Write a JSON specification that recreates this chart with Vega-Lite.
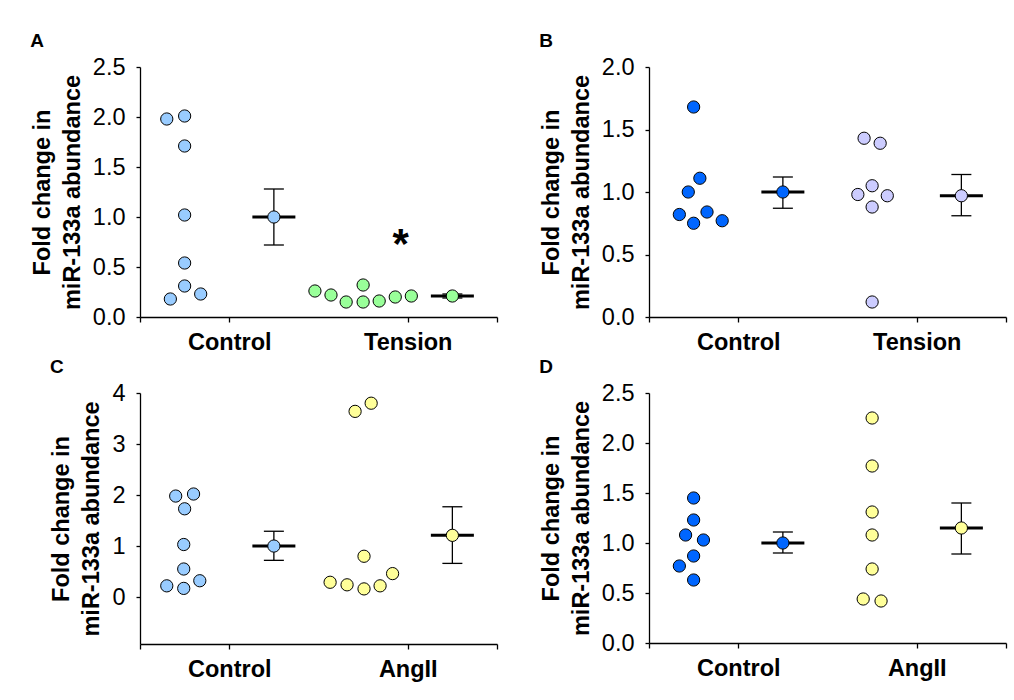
{
  "$schema": "https://vega.github.io/schema/vega-lite/v6.json",
  "padding": {"left": 30, "top": 32, "right": 5, "bottom": 5},
  "background": "white",
  "config": {
    "font": "Liberation Sans",
    "view": {"stroke": null},
    "axis": {"grid": false, "domainColor": "#000", "domainWidth": 1.3, "tickColor": "#000", "tickWidth": 1.3, "labelColor": "#000", "labelFont": "Liberation Sans", "labelFontSize": 23.5, "titleFont": "Liberation Sans", "titleFontSize": 23.5, "titleFontWeight": "bold", "titleColor": "#000"},
    "axisX": {"labelFontWeight": "bold", "tickSize": 5, "labelPadding": 8},
    "axisY": {"tickSize": 4, "labelPadding": 11, "titleLineHeight": 30, "titlePadding": 8},
    "title": {"font": "Liberation Sans", "fontSize": 19, "fontWeight": "bold", "color": "#000", "anchor": "start", "frame": "bounds", "offset": 4},
    "circle": {"size": 150, "stroke": "#000", "strokeWidth": 1, "opacity": 1}
  },
  "datasets": {
    "points": [
      {"panel": "A", "group": "Control", "pos": 0.30, "value": 1.98},
      {"panel": "A", "group": "Control", "pos": 0.50, "value": 2.01},
      {"panel": "A", "group": "Control", "pos": 0.50, "value": 1.71},
      {"panel": "A", "group": "Control", "pos": 0.50, "value": 1.02},
      {"panel": "A", "group": "Control", "pos": 0.50, "value": 0.54},
      {"panel": "A", "group": "Control", "pos": 0.50, "value": 0.31},
      {"panel": "A", "group": "Control", "pos": 0.34, "value": 0.18},
      {"panel": "A", "group": "Control", "pos": 0.68, "value": 0.23},
      {"panel": "A", "group": "Tension", "pos": 1.96, "value": 0.26},
      {"panel": "A", "group": "Tension", "pos": 2.14, "value": 0.22},
      {"panel": "A", "group": "Tension", "pos": 2.31, "value": 0.15},
      {"panel": "A", "group": "Tension", "pos": 2.50, "value": 0.32},
      {"panel": "A", "group": "Tension", "pos": 2.50, "value": 0.15},
      {"panel": "A", "group": "Tension", "pos": 2.68, "value": 0.16},
      {"panel": "A", "group": "Tension", "pos": 2.86, "value": 0.20},
      {"panel": "A", "group": "Tension", "pos": 3.04, "value": 0.21},
      {"panel": "B", "group": "Control", "pos": 0.50, "value": 1.68},
      {"panel": "B", "group": "Control", "pos": 0.57, "value": 1.11},
      {"panel": "B", "group": "Control", "pos": 0.44, "value": 1.00},
      {"panel": "B", "group": "Control", "pos": 0.34, "value": 0.82},
      {"panel": "B", "group": "Control", "pos": 0.50, "value": 0.75},
      {"panel": "B", "group": "Control", "pos": 0.65, "value": 0.84},
      {"panel": "B", "group": "Control", "pos": 0.82, "value": 0.77},
      {"panel": "B", "group": "Tension", "pos": 2.41, "value": 1.43},
      {"panel": "B", "group": "Tension", "pos": 2.59, "value": 1.39},
      {"panel": "B", "group": "Tension", "pos": 2.50, "value": 1.05},
      {"panel": "B", "group": "Tension", "pos": 2.34, "value": 0.98},
      {"panel": "B", "group": "Tension", "pos": 2.67, "value": 0.97},
      {"panel": "B", "group": "Tension", "pos": 2.50, "value": 0.88},
      {"panel": "B", "group": "Tension", "pos": 2.50, "value": 0.12},
      {"panel": "C", "group": "Control", "pos": 0.40, "value": 1.98},
      {"panel": "C", "group": "Control", "pos": 0.60, "value": 2.02},
      {"panel": "C", "group": "Control", "pos": 0.50, "value": 1.73},
      {"panel": "C", "group": "Control", "pos": 0.49, "value": 1.03},
      {"panel": "C", "group": "Control", "pos": 0.49, "value": 0.55},
      {"panel": "C", "group": "Control", "pos": 0.30, "value": 0.22},
      {"panel": "C", "group": "Control", "pos": 0.49, "value": 0.17},
      {"panel": "C", "group": "Control", "pos": 0.67, "value": 0.32},
      {"panel": "C", "group": "AngII", "pos": 2.41, "value": 3.64},
      {"panel": "C", "group": "AngII", "pos": 2.59, "value": 3.80},
      {"panel": "C", "group": "AngII", "pos": 2.51, "value": 0.80},
      {"panel": "C", "group": "AngII", "pos": 2.13, "value": 0.29},
      {"panel": "C", "group": "AngII", "pos": 2.32, "value": 0.24},
      {"panel": "C", "group": "AngII", "pos": 2.51, "value": 0.16},
      {"panel": "C", "group": "AngII", "pos": 2.69, "value": 0.22},
      {"panel": "C", "group": "AngII", "pos": 2.83, "value": 0.46},
      {"panel": "D", "group": "Control", "pos": 0.50, "value": 1.45},
      {"panel": "D", "group": "Control", "pos": 0.50, "value": 1.23},
      {"panel": "D", "group": "Control", "pos": 0.41, "value": 1.08},
      {"panel": "D", "group": "Control", "pos": 0.61, "value": 1.03},
      {"panel": "D", "group": "Control", "pos": 0.50, "value": 0.87},
      {"panel": "D", "group": "Control", "pos": 0.34, "value": 0.77},
      {"panel": "D", "group": "Control", "pos": 0.50, "value": 0.63},
      {"panel": "D", "group": "AngII", "pos": 2.50, "value": 2.25},
      {"panel": "D", "group": "AngII", "pos": 2.50, "value": 1.77},
      {"panel": "D", "group": "AngII", "pos": 2.50, "value": 1.31},
      {"panel": "D", "group": "AngII", "pos": 2.50, "value": 1.08},
      {"panel": "D", "group": "AngII", "pos": 2.50, "value": 0.74},
      {"panel": "D", "group": "AngII", "pos": 2.40, "value": 0.44},
      {"panel": "D", "group": "AngII", "pos": 2.60, "value": 0.42}
    ],
    "summary": [
      {"panel": "A", "group": "Control", "pos": 1.5, "mean": 1.00, "lo": 0.72, "hi": 1.28},
      {"panel": "A", "group": "Tension", "pos": 3.5, "mean": 0.21, "lo": 0.19, "hi": 0.23},
      {"panel": "B", "group": "Control", "pos": 1.5, "mean": 1.00, "lo": 0.87, "hi": 1.12},
      {"panel": "B", "group": "Tension", "pos": 3.5, "mean": 0.97, "lo": 0.81, "hi": 1.14},
      {"panel": "C", "group": "Control", "pos": 1.5, "mean": 1.00, "lo": 0.72, "hi": 1.29},
      {"panel": "C", "group": "AngII", "pos": 3.5, "mean": 1.21, "lo": 0.66, "hi": 1.77},
      {"panel": "D", "group": "Control", "pos": 1.5, "mean": 1.00, "lo": 0.90, "hi": 1.11},
      {"panel": "D", "group": "AngII", "pos": 3.5, "mean": 1.15, "lo": 0.89, "hi": 1.40}
    ],
    "notes": [
      {"panel": "A", "pos": 2.92, "value": 0.82, "label": "*"}
    ]
  },
  "columns": 2,
  "spacing": {"row": 76, "column": 152},
  "bounds": "flush",
  "resolve": {"scale": {"x": "independent", "y": "independent", "color": "independent"}},
  "concat": [
    {
      "width": 357, "height": 250,
      "title": {"text": "A"},
      "encoding": {"x": {"field": "pos", "type": "quantitative", "scale": {"domain": [0, 4], "nice": false, "zero": false}, "axis": {"values": [0, 1, 3, 4], "title": null, "labelExpr": "datum.value == 1 ? 'Control' : datum.value == 3 ? 'Tension' : ''"}}},
      "layer": [
        {"data": {"name": "summary"}, "transform": [{"filter": "datum.panel == 'A'"}], "mark": {"type": "rule", "color": "#000", "strokeWidth": 1.3}, "encoding": {"y": {"field": "lo", "type": "quantitative", "scale": {"domain": [0, 2.5], "nice": false, "zero": false}, "axis": {"values": [0, 0.5, 1, 1.5, 2, 2.5], "format": ".1f", "title": ["Fold change in", "miR-133a abundance"]}}, "y2": {"field": "hi"}}},
        {"data": {"name": "summary"}, "transform": [{"filter": "datum.panel == 'A'"}], "mark": {"type": "tick", "orient": "horizontal", "size": 20, "thickness": 1.3, "color": "#000", "opacity": 1}, "encoding": {"y": {"field": "lo", "type": "quantitative", "scale": {"domain": [0, 2.5], "nice": false, "zero": false}, "axis": {"values": [0, 0.5, 1, 1.5, 2, 2.5], "format": ".1f", "title": ["Fold change in", "miR-133a abundance"]}}}},
        {"data": {"name": "summary"}, "transform": [{"filter": "datum.panel == 'A'"}], "mark": {"type": "tick", "orient": "horizontal", "size": 20, "thickness": 1.3, "color": "#000", "opacity": 1}, "encoding": {"y": {"field": "hi", "type": "quantitative", "scale": {"domain": [0, 2.5], "nice": false, "zero": false}, "axis": {"values": [0, 0.5, 1, 1.5, 2, 2.5], "format": ".1f", "title": ["Fold change in", "miR-133a abundance"]}}}},
        {"data": {"name": "summary"}, "transform": [{"filter": "datum.panel == 'A'"}], "mark": {"type": "tick", "orient": "horizontal", "size": 43, "thickness": 3, "color": "#000", "opacity": 1}, "encoding": {"y": {"field": "mean", "type": "quantitative", "scale": {"domain": [0, 2.5], "nice": false, "zero": false}, "axis": {"values": [0, 0.5, 1, 1.5, 2, 2.5], "format": ".1f", "title": ["Fold change in", "miR-133a abundance"]}}}},
        {"data": {"name": "points"}, "transform": [{"filter": "datum.panel == 'A'"}], "mark": {"type": "circle"}, "encoding": {
          "y": {"field": "value", "type": "quantitative", "scale": {"domain": [0, 2.5], "nice": false, "zero": false}, "axis": {"values": [0, 0.5, 1, 1.5, 2, 2.5], "format": ".1f", "title": ["Fold change in", "miR-133a abundance"]}},
          "color": {"field": "group", "type": "nominal", "scale": {"domain": ["Control", "Tension"], "range": ["#99CCFF", "#99FF99"]}, "legend": null}}},
        {"data": {"name": "summary"}, "transform": [{"filter": "datum.panel == 'A'"}], "mark": {"type": "circle"}, "encoding": {"y": {"field": "mean", "type": "quantitative", "scale": {"domain": [0, 2.5], "nice": false, "zero": false}, "axis": {"values": [0, 0.5, 1, 1.5, 2, 2.5], "format": ".1f", "title": ["Fold change in", "miR-133a abundance"]}}, "color": {"field": "group", "type": "nominal", "legend": null}}},
        {"data": {"name": "notes"}, "transform": [{"filter": "datum.panel == 'A'"}], "mark": {"type": "text", "fontSize": 42, "fontWeight": "bold", "baseline": "middle", "dy": 10, "color": "#000"}, "encoding": {"y": {"field": "value", "type": "quantitative", "scale": {"domain": [0, 2.5], "nice": false, "zero": false}, "axis": {"values": [0, 0.5, 1, 1.5, 2, 2.5], "format": ".1f", "title": ["Fold change in", "miR-133a abundance"]}}, "text": {"field": "label"}}}
      ]
    },
    {
      "width": 357, "height": 250,
      "title": {"text": "B"},
      "encoding": {"x": {"field": "pos", "type": "quantitative", "scale": {"domain": [0, 4], "nice": false, "zero": false}, "axis": {"values": [0, 1, 3, 4], "title": null, "labelExpr": "datum.value == 1 ? 'Control' : datum.value == 3 ? 'Tension' : ''"}}},
      "layer": [
        {"data": {"name": "summary"}, "transform": [{"filter": "datum.panel == 'B'"}], "mark": {"type": "rule", "color": "#000", "strokeWidth": 1.3}, "encoding": {"y": {"field": "lo", "type": "quantitative", "scale": {"domain": [0, 2], "nice": false, "zero": false}, "axis": {"values": [0, 0.5, 1, 1.5, 2], "format": ".1f", "title": ["Fold change in", "miR-133a abundance"]}}, "y2": {"field": "hi"}}},
        {"data": {"name": "summary"}, "transform": [{"filter": "datum.panel == 'B'"}], "mark": {"type": "tick", "orient": "horizontal", "size": 20, "thickness": 1.3, "color": "#000", "opacity": 1}, "encoding": {"y": {"field": "lo", "type": "quantitative", "scale": {"domain": [0, 2], "nice": false, "zero": false}, "axis": {"values": [0, 0.5, 1, 1.5, 2], "format": ".1f", "title": ["Fold change in", "miR-133a abundance"]}}}},
        {"data": {"name": "summary"}, "transform": [{"filter": "datum.panel == 'B'"}], "mark": {"type": "tick", "orient": "horizontal", "size": 20, "thickness": 1.3, "color": "#000", "opacity": 1}, "encoding": {"y": {"field": "hi", "type": "quantitative", "scale": {"domain": [0, 2], "nice": false, "zero": false}, "axis": {"values": [0, 0.5, 1, 1.5, 2], "format": ".1f", "title": ["Fold change in", "miR-133a abundance"]}}}},
        {"data": {"name": "summary"}, "transform": [{"filter": "datum.panel == 'B'"}], "mark": {"type": "tick", "orient": "horizontal", "size": 43, "thickness": 3, "color": "#000", "opacity": 1}, "encoding": {"y": {"field": "mean", "type": "quantitative", "scale": {"domain": [0, 2], "nice": false, "zero": false}, "axis": {"values": [0, 0.5, 1, 1.5, 2], "format": ".1f", "title": ["Fold change in", "miR-133a abundance"]}}}},
        {"data": {"name": "points"}, "transform": [{"filter": "datum.panel == 'B'"}], "mark": {"type": "circle"}, "encoding": {
          "y": {"field": "value", "type": "quantitative", "scale": {"domain": [0, 2], "nice": false, "zero": false}, "axis": {"values": [0, 0.5, 1, 1.5, 2], "format": ".1f", "title": ["Fold change in", "miR-133a abundance"]}},
          "color": {"field": "group", "type": "nominal", "scale": {"domain": ["Control", "Tension"], "range": ["#0066FF", "#CCCCFF"]}, "legend": null}}},
        {"data": {"name": "summary"}, "transform": [{"filter": "datum.panel == 'B'"}], "mark": {"type": "circle"}, "encoding": {"y": {"field": "mean", "type": "quantitative", "scale": {"domain": [0, 2], "nice": false, "zero": false}, "axis": {"values": [0, 0.5, 1, 1.5, 2], "format": ".1f", "title": ["Fold change in", "miR-133a abundance"]}}, "color": {"field": "group", "type": "nominal", "legend": null}}}
      ]
    },
    {
      "width": 357, "height": 251,
      "title": {"text": "C"},
      "encoding": {"x": {"field": "pos", "type": "quantitative", "scale": {"domain": [0, 4], "nice": false, "zero": false}, "axis": {"values": [0, 1, 3, 4], "title": null, "labelExpr": "datum.value == 1 ? 'Control' : datum.value == 3 ? 'AngII' : ''"}}},
      "layer": [
        {"data": {"name": "summary"}, "transform": [{"filter": "datum.panel == 'C'"}], "mark": {"type": "rule", "color": "#000", "strokeWidth": 1.3}, "encoding": {"y": {"field": "lo", "type": "quantitative", "scale": {"domain": [-0.92, 4], "nice": false, "zero": false}, "axis": {"values": [0, 1, 2, 3, 4], "format": "d", "title": ["Fold change in", "miR-133a abundance"]}}, "y2": {"field": "hi"}}},
        {"data": {"name": "summary"}, "transform": [{"filter": "datum.panel == 'C'"}], "mark": {"type": "tick", "orient": "horizontal", "size": 20, "thickness": 1.3, "color": "#000", "opacity": 1}, "encoding": {"y": {"field": "lo", "type": "quantitative", "scale": {"domain": [-0.92, 4], "nice": false, "zero": false}, "axis": {"values": [0, 1, 2, 3, 4], "format": "d", "title": ["Fold change in", "miR-133a abundance"]}}}},
        {"data": {"name": "summary"}, "transform": [{"filter": "datum.panel == 'C'"}], "mark": {"type": "tick", "orient": "horizontal", "size": 20, "thickness": 1.3, "color": "#000", "opacity": 1}, "encoding": {"y": {"field": "hi", "type": "quantitative", "scale": {"domain": [-0.92, 4], "nice": false, "zero": false}, "axis": {"values": [0, 1, 2, 3, 4], "format": "d", "title": ["Fold change in", "miR-133a abundance"]}}}},
        {"data": {"name": "summary"}, "transform": [{"filter": "datum.panel == 'C'"}], "mark": {"type": "tick", "orient": "horizontal", "size": 43, "thickness": 3, "color": "#000", "opacity": 1}, "encoding": {"y": {"field": "mean", "type": "quantitative", "scale": {"domain": [-0.92, 4], "nice": false, "zero": false}, "axis": {"values": [0, 1, 2, 3, 4], "format": "d", "title": ["Fold change in", "miR-133a abundance"]}}}},
        {"data": {"name": "points"}, "transform": [{"filter": "datum.panel == 'C'"}], "mark": {"type": "circle"}, "encoding": {
          "y": {"field": "value", "type": "quantitative", "scale": {"domain": [-0.92, 4], "nice": false, "zero": false}, "axis": {"values": [0, 1, 2, 3, 4], "format": "d", "title": ["Fold change in", "miR-133a abundance"]}},
          "color": {"field": "group", "type": "nominal", "scale": {"domain": ["Control", "AngII"], "range": ["#99CCFF", "#FFFF99"]}, "legend": null}}},
        {"data": {"name": "summary"}, "transform": [{"filter": "datum.panel == 'C'"}], "mark": {"type": "circle"}, "encoding": {"y": {"field": "mean", "type": "quantitative", "scale": {"domain": [-0.92, 4], "nice": false, "zero": false}, "axis": {"values": [0, 1, 2, 3, 4], "format": "d", "title": ["Fold change in", "miR-133a abundance"]}}, "color": {"field": "group", "type": "nominal", "legend": null}}}
      ]
    },
    {
      "width": 357, "height": 250,
      "title": {"text": "D"},
      "encoding": {"x": {"field": "pos", "type": "quantitative", "scale": {"domain": [0, 4], "nice": false, "zero": false}, "axis": {"values": [0, 1, 3, 4], "title": null, "labelExpr": "datum.value == 1 ? 'Control' : datum.value == 3 ? 'AngII' : ''"}}},
      "layer": [
        {"data": {"name": "summary"}, "transform": [{"filter": "datum.panel == 'D'"}], "mark": {"type": "rule", "color": "#000", "strokeWidth": 1.3}, "encoding": {"y": {"field": "lo", "type": "quantitative", "scale": {"domain": [0, 2.5], "nice": false, "zero": false}, "axis": {"values": [0, 0.5, 1, 1.5, 2, 2.5], "format": ".1f", "title": ["Fold change in", "miR-133a abundance"]}}, "y2": {"field": "hi"}}},
        {"data": {"name": "summary"}, "transform": [{"filter": "datum.panel == 'D'"}], "mark": {"type": "tick", "orient": "horizontal", "size": 20, "thickness": 1.3, "color": "#000", "opacity": 1}, "encoding": {"y": {"field": "lo", "type": "quantitative", "scale": {"domain": [0, 2.5], "nice": false, "zero": false}, "axis": {"values": [0, 0.5, 1, 1.5, 2, 2.5], "format": ".1f", "title": ["Fold change in", "miR-133a abundance"]}}}},
        {"data": {"name": "summary"}, "transform": [{"filter": "datum.panel == 'D'"}], "mark": {"type": "tick", "orient": "horizontal", "size": 20, "thickness": 1.3, "color": "#000", "opacity": 1}, "encoding": {"y": {"field": "hi", "type": "quantitative", "scale": {"domain": [0, 2.5], "nice": false, "zero": false}, "axis": {"values": [0, 0.5, 1, 1.5, 2, 2.5], "format": ".1f", "title": ["Fold change in", "miR-133a abundance"]}}}},
        {"data": {"name": "summary"}, "transform": [{"filter": "datum.panel == 'D'"}], "mark": {"type": "tick", "orient": "horizontal", "size": 43, "thickness": 3, "color": "#000", "opacity": 1}, "encoding": {"y": {"field": "mean", "type": "quantitative", "scale": {"domain": [0, 2.5], "nice": false, "zero": false}, "axis": {"values": [0, 0.5, 1, 1.5, 2, 2.5], "format": ".1f", "title": ["Fold change in", "miR-133a abundance"]}}}},
        {"data": {"name": "points"}, "transform": [{"filter": "datum.panel == 'D'"}], "mark": {"type": "circle"}, "encoding": {
          "y": {"field": "value", "type": "quantitative", "scale": {"domain": [0, 2.5], "nice": false, "zero": false}, "axis": {"values": [0, 0.5, 1, 1.5, 2, 2.5], "format": ".1f", "title": ["Fold change in", "miR-133a abundance"]}},
          "color": {"field": "group", "type": "nominal", "scale": {"domain": ["Control", "AngII"], "range": ["#0066FF", "#FFFF99"]}, "legend": null}}},
        {"data": {"name": "summary"}, "transform": [{"filter": "datum.panel == 'D'"}], "mark": {"type": "circle"}, "encoding": {"y": {"field": "mean", "type": "quantitative", "scale": {"domain": [0, 2.5], "nice": false, "zero": false}, "axis": {"values": [0, 0.5, 1, 1.5, 2, 2.5], "format": ".1f", "title": ["Fold change in", "miR-133a abundance"]}}, "color": {"field": "group", "type": "nominal", "legend": null}}}
      ]
    }
  ]
}
